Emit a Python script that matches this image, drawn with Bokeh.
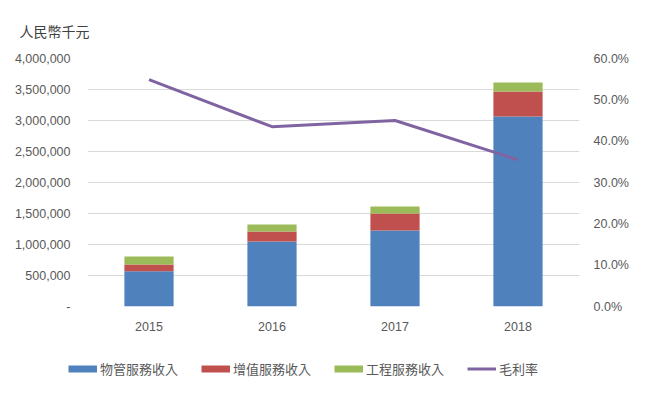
from bokeh.plotting import figure
from bokeh.layouts import column, row
from bokeh.models import (Range1d, LinearAxis, FixedTicker, NumeralTickFormatter,
                          Legend, LegendItem, ColumnDataSource)
from bokeh.embed import file_html
from bokeh.resources import INLINE

years = ["2015", "2016", "2017", "2018"]
property_mgmt = [570000, 1048000, 1226000, 3065000]
value_added = [108000, 162000, 274000, 403000]
engineering = [129000, 113000, 113000, 145000]
gross_margin = [0.549, 0.435, 0.450, 0.355]
series_names = ["物管服務收入", "增值服務收入", "工程服務收入"]
line_name = "毛利率"
unit_title = "人民幣千元"
left_ticks = [0, 500000, 1000000, 1500000, 2000000, 2500000, 3000000, 3500000, 4000000]
right_ticks = [0.0, 0.1, 0.2, 0.3, 0.4, 0.5, 0.6]

colors = ["#4F81BD", "#C0504D", "#9BBB59"]
line_color = "#8064A2"
text_color = "#595959"
grid_color = "#D9D9D9"
num_font = "Liberation Sans"
cjk_font = "Noto Sans CJK TC"

src = ColumnDataSource(dict(year=years, a=property_mgmt, b=value_added, c=engineering, m=gross_margin))

p = figure(width=657, height=340, x_range=years, y_range=Range1d(0, 4000000),
           output_backend="svg", toolbar_location=None,
           min_border_left=87, min_border_right=78, min_border_top=58, min_border_bottom=34)
p.outline_line_color = None
p.extra_y_ranges = {"pct": Range1d(0, 0.6)}

bars = p.vbar_stack(["a", "b", "c"], x="year", width=0.4, color=colors, source=src, line_color=None)
ln = p.line(x="year", y="m", source=src, y_range_name="pct", line_color=line_color, line_width=3)

p.yaxis.ticker = FixedTicker(ticks=left_ticks)
p.yaxis.formatter = NumeralTickFormatter(format="0,0")
p.yaxis.major_label_overrides = {0: "-"}

ra = LinearAxis(y_range_name="pct", ticker=FixedTicker(ticks=right_ticks),
                formatter=NumeralTickFormatter(format="0.0%"))
p.add_layout(ra, "right")

for ax in [p.yaxis[0], p.xaxis[0], ra]:
    ax.axis_line_color = None
    ax.major_tick_line_color = None
    ax.minor_tick_line_color = None
    ax.major_tick_out = 0
    ax.major_tick_in = 0
    ax.minor_tick_out = 0
    ax.minor_tick_in = 0
    ax.major_label_text_font = num_font
    ax.major_label_text_font_size = "12.5px"
    ax.major_label_text_color = text_color
p.yaxis[0].major_label_standoff = 17
ra.major_label_standoff = 14
p.xaxis.major_label_standoff = 15

p.xgrid.grid_line_color = None
p.ygrid.grid_line_color = grid_color
p.ygrid.grid_line_width = 1

p.title.text = unit_title
p.title.align = "left"
p.title.offset = -68
p.title.standoff = 36
p.title.text_font = cjk_font
p.title.text_font_size = "14px"
p.title.text_font_style = "normal"
p.title.text_color = "#404040"

# legend strip below the chart
lg = figure(width=657, height=54, x_range=Range1d(0, 1), y_range=Range1d(0, 1),
            output_backend="svg", toolbar_location=None,
            x_axis_location=None, y_axis_location=None,
            min_border_left=0, min_border_right=0, min_border_top=0, min_border_bottom=0)
lg.outline_line_color = None
lg.xgrid.grid_line_color = None
lg.ygrid.grid_line_color = None
nan = float("nan")
swatch_src = ColumnDataSource(dict(x=[0.5], y=[nan]))
swatches = [lg.line(x="x", y="y", source=swatch_src, line_color=c, line_width=7) for c in colors]
swatches.append(lg.line(x="x", y="y", source=swatch_src, line_color=line_color, line_width=3))
names = series_names + [line_name]
items = [LegendItem(label=names[i], renderers=[swatches[i]]) for i in range(4)]
leg = Legend(items=items, orientation="horizontal", location=(68, 16),
             glyph_width=29, glyph_height=17, label_height=17, label_standoff=3, spacing=23,
             padding=0, margin=0, border_line_color=None, background_fill_alpha=0,
             label_text_font=cjk_font, label_text_font_size="13px",
             label_text_color=text_color)
lg.add_layout(leg, "center")

layout = column(p, row(lg), spacing=0)
open("out.html", "w").write(file_html(layout, INLINE))
